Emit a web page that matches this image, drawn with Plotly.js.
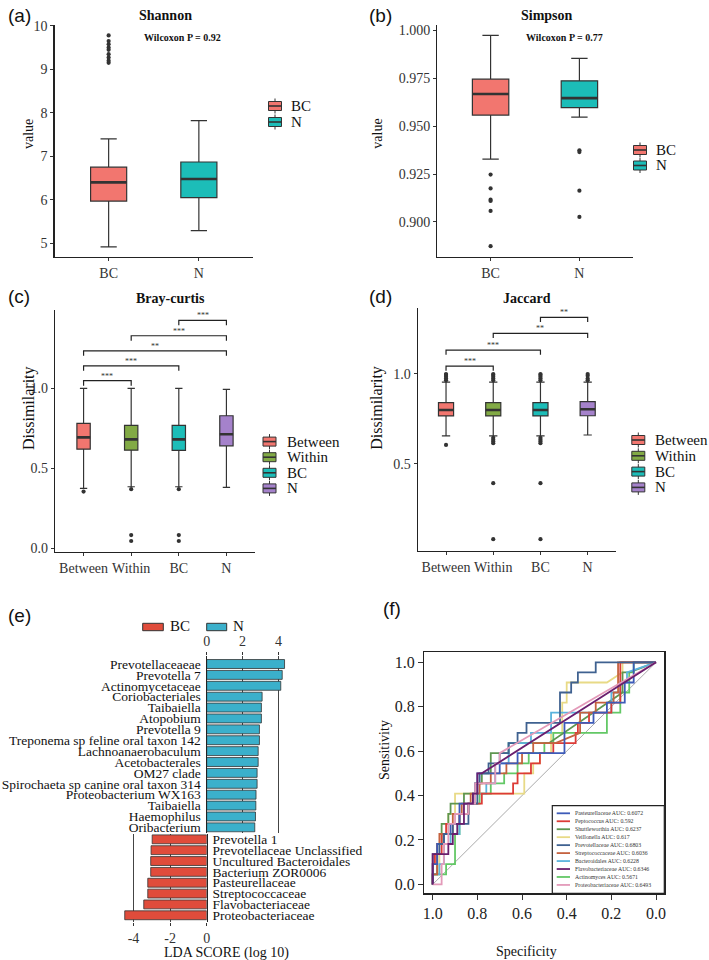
<!DOCTYPE html>
<html><head><meta charset="utf-8">
<script src="https://cdn.plot.ly/plotly-3.0.1.min.js"></script>
<style>html,body{margin:0;padding:0;background:#fff}#chart{width:709px;height:960px}</style>
</head><body><div id="chart"></div>
<script>
// ---------------- DATA ----------------
// (a) Shannon
const alphaGroups = ['BC', 'N'];
const shannonQ1 = [5.97, 6.05];
const shannonMed = [6.40, 6.48];
const shannonQ3 = [6.75, 6.87];
const shannonLo = [4.92, 5.29];
const shannonHi = [7.40, 7.82];
const shannonOut = [[9.15, 9.2, 9.27, 9.35, 9.45, 9.5, 9.58, 9.65, 9.78], []];
// (b) Simpson
const simpsonQ1 = [0.9558, 0.9597];
const simpsonMed = [0.9668, 0.9647];
const simpsonQ3 = [0.9746, 0.9737];
const simpsonLo = [0.9328, 0.9548];
const simpsonHi = [0.9975, 0.9855];
const simpsonOut = [[0.9247, 0.9175, 0.9116, 0.9109, 0.9057, 0.8873], [0.9374, 0.9365, 0.9163, 0.9026]];
// (c) Bray-curtis
const distGroups = ['Between', 'Within', 'BC', 'N'];
const brayQ1 = [0.620, 0.614, 0.612, 0.641];
const brayMed = [0.694, 0.681, 0.681, 0.713];
const brayQ3 = [0.781, 0.769, 0.769, 0.829];
const brayLo = [0.375, 0.385, 0.385, 0.381];
const brayHi = [1.0, 1.0, 1.0, 0.994];
const brayOut = [[0.355], [0.37, 0.083, 0.046], [0.37, 0.083, 0.046], []];
const brayPairA = [0, 0, 0, 1, 2];
const brayPairB = [1, 2, 3, 3, 3];
const brayBracketY = [1.048, 1.141, 1.235, 1.329, 1.425];
const brayStars = ['***', '***', '**', '***', '***'];
// (d) Jaccard
const jacQ1 = [0.767, 0.767, 0.767, 0.768];
const jacMed = [0.800, 0.800, 0.800, 0.804];
const jacQ3 = [0.841, 0.841, 0.841, 0.846];
const jacLo = [0.656, 0.656, 0.656, 0.661];
const jacHi = [0.955, 0.955, 0.955, 0.955];
const jacOut = [
  [0.965, 0.975, 0.985, 0.995, 1.0, 0.606],
  [0.965, 0.975, 0.985, 0.995, 1.0, 0.645, 0.635, 0.625, 0.615, 0.393, 0.082],
  [0.965, 0.975, 0.985, 0.995, 1.0, 0.645, 0.635, 0.625, 0.615, 0.393, 0.082],
  [0.965, 0.975, 0.99, 1.0]
];
const jacPairA = [0, 0, 1, 2];
const jacPairB = [1, 2, 3, 3];
const jacBracketY = [1.044, 1.133, 1.226, 1.315];
const jacStars = ['***', '***', '**', '**'];
// (e) LEfSe
const ldaTaxaN = ['Prevotellaceaeae', 'Prevotella 7', 'Actinomycetaceae', 'Coriobacteriales', 'Taibaiella', 'Atopobium',
  'Prevotella 9', 'Treponema sp feline oral taxon 142', 'Lachnoanaerobaculum', 'Acetobacterales', 'OM27 clade',
  'Spirochaeta sp canine oral taxon 314', 'Proteobacterium WX163', 'Taibaiella', 'Haemophilus', 'Oribacterium'];
const ldaScoreN = [4.34, 4.21, 4.13, 3.09, 3.05, 3.05, 2.94, 2.94, 2.87, 2.87, 2.81, 2.81, 2.75, 2.74, 2.72, 2.68];
const ldaTaxaBC = ['Prevotella 1', 'Prevotellaceae Unclassified', 'Uncultured Bacteroidales', 'Bacterium ZOR0006',
  'Pasteurellaceae', 'Streptococcaceae', 'Flavobacteriaceae', 'Proteobacteriaceae'];
const ldaScoreBC = [-2.98, -3.04, -3.06, -3.06, -3.22, -3.22, -3.44, -4.48];
const ldaTicksTop = [0, 2, 4];
const ldaTicksBottom = [-4, -2, 0];
// (f) ROC
const rocNames = ['Pasteurellaceae', 'Peptococcus', 'Shuttleworthia', 'Veillonella', 'Prevotellaceae',
  'Streptococcaceae', 'Bacteroidales', 'Flavobacteriaceae', 'Actinomyces', 'Proteobacteriaceae'];
const rocAUC = ['0.6072', '0.592', '0.6237', '0.617', '0.6803', '0.6036', '0.6228', '0.6346', '0.5671', '0.6493'];
const specPasteurellaceae = [1,1,0.98,0.98,0.95,0.95,0.92,0.92,0.88,0.88,0.82,0.82,0.81,0.81,0.80,0.80,0.70,0.70,0.62,0.62,0.41,0.41,0.28,0.28,0.22,0.22,0.14,0.14,0.10,0.10,0];
const sensPasteurellaceae = [0,0.091,0.091,0.182,0.182,0.227,0.227,0.273,0.273,0.364,0.364,0.409,0.409,0.455,0.455,0.5,0.5,0.545,0.545,0.591,0.591,0.727,0.727,0.773,0.773,0.818,0.818,0.909,0.909,1,1];
const specPeptococcus = [1,1,0.99,0.99,0.96,0.96,0.94,0.94,0.88,0.88,0.84,0.84,0.78,0.78,0.64,0.64,0.62,0.62,0.56,0.56,0.52,0.52,0.46,0.46,0.36,0.36,0.35,0.35,0.30,0.30,0.20,0.20,0.16,0.16,0];
const sensPeptococcus = [0,0.091,0.091,0.136,0.136,0.227,0.227,0.273,0.273,0.318,0.318,0.364,0.364,0.409,0.409,0.455,0.455,0.5,0.5,0.545,0.545,0.591,0.591,0.636,0.636,0.682,0.682,0.727,0.727,0.773,0.773,0.818,0.818,1,1];
const specShuttleworthia = [1,1,0.98,0.98,0.96,0.96,0.93,0.93,0.92,0.92,0.86,0.86,0.81,0.81,0.78,0.78,0.74,0.74,0.66,0.66,0.48,0.15,0.15,0.12,0];
const sensShuttleworthia = [0,0.045,0.045,0.182,0.182,0.273,0.273,0.318,0.318,0.364,0.364,0.409,0.409,0.455,0.455,0.5,0.5,0.591,0.591,0.636,0.636,0.864,0.955,0.955,1];
const specVeillonella = [1,1,0.97,0.97,0.95,0.95,0.93,0.93,0.90,0.90,0.59,0.59,0.55,0.55,0.52,0.52,0.47,0.47,0.42,0.42,0.40,0.40,0.22,0.15,0.15,0];
const sensVeillonella = [0,0.045,0.045,0.136,0.136,0.227,0.227,0.318,0.318,0.409,0.409,0.5,0.5,0.545,0.545,0.591,0.591,0.682,0.682,0.818,0.818,0.909,0.909,0.955,1,1];
const specPrevotellaceae = [1,1,0.97,0.97,0.95,0.95,0.91,0.91,0.84,0.84,0.80,0.80,0.79,0.79,0.75,0.75,0.70,0.70,0.66,0.66,0.62,0.62,0.58,0.58,0.43,0.43,0.38,0.38,0.35,0.35,0.27,0.27,0];
const sensPrevotellaceae = [0,0.136,0.136,0.182,0.182,0.227,0.227,0.273,0.273,0.364,0.364,0.455,0.455,0.5,0.5,0.545,0.545,0.591,0.591,0.636,0.636,0.682,0.682,0.727,0.727,0.864,0.864,0.909,0.909,0.955,0.955,1,1];
const specStreptococcaceae = [1,1,0.98,0.98,0.97,0.97,0.91,0.91,0.87,0.87,0.83,0.83,0.79,0.79,0.74,0.74,0.67,0.67,0.60,0.60,0.55,0.55,0.45,0.34,0.34,0.27,0.27,0.19,0.19,0.17,0.17,0];
const sensStreptococcaceae = [0,0.045,0.045,0.182,0.182,0.227,0.227,0.318,0.318,0.364,0.364,0.409,0.409,0.455,0.455,0.5,0.5,0.545,0.545,0.591,0.591,0.636,0.636,0.682,0.773,0.773,0.818,0.818,0.864,0.864,1,1];
const specBacteroidales = [1,1,0.97,0.97,0.95,0.95,0.92,0.92,0.88,0.88,0.84,0.84,0.81,0.81,0.76,0.76,0.72,0.72,0.66,0.66,0.56,0.56,0.47,0.47,0.20,0.20,0.16,0.16,0.13,0.13,0];
const sensBacteroidales = [0,0.045,0.045,0.091,0.091,0.182,0.182,0.227,0.227,0.318,0.318,0.364,0.364,0.409,0.409,0.455,0.455,0.545,0.545,0.636,0.636,0.682,0.682,0.773,0.773,0.864,0.864,0.909,0.909,0.955,1];
const specFlavobacteriaceae = [1,1,0.93,0.93,0.91,0.91,0.89,0.89,0.86,0.86,0.82,0.82,0.80,0.80,0.78,0];
const sensFlavobacteriaceae = [0,0.136,0.136,0.182,0.182,0.227,0.227,0.273,0.273,0.364,0.364,0.409,0.409,0.5,0.5,1];
const specActinomyces = [1,1,0.94,0.94,0.90,0.90,0.88,0.88,0.84,0.84,0.79,0.79,0.74,0.74,0.68,0.68,0.62,0.62,0.57,0.57,0.50,0.50,0.46,0.46,0.22,0.22,0.16,0.16,0.12,0.12,0.10,0.10,0];
const sensActinomyces = [0,0.045,0.045,0.091,0.091,0.227,0.227,0.318,0.318,0.364,0.364,0.409,0.409,0.455,0.455,0.5,0.5,0.545,0.545,0.591,0.591,0.636,0.636,0.682,0.682,0.773,0.773,0.864,0.864,0.955,0.955,1,1];
const specProteobacteriaceae = [1,0.96,0.96,0.95,0.95,0.93,0.93,0.90,0.90,0.84,0.84,0.81,0.81,0.72,0.72,0.70,0.70,0];
const sensProteobacteriaceae = [0,0,0.091,0.091,0.182,0.182,0.273,0.273,0.318,0.318,0.364,0.364,0.455,0.455,0.545,0.545,0.591,1];

// ---------------- STYLE / LAYOUT HELPERS ----------------
const W = 709, H = 960;
const px = v => v / W, py = v => 1 - v / H;
const SERIF = '"Liberation Serif","Times New Roman",serif';
const SANS = '"Liberation Sans",Arial,sans-serif';
const INK = '#333333', AXC = '#222222';
const pairColors = ['#F2766F', '#1CBDB8'];
const fourColors = ['#F2766F', '#82AA45', '#1CBDB8', '#A582CB'];
const ldaRed = '#E04C3B', ldaBlue = '#3BB0CB';
const rocColors = ['#3D5BB8', '#DD3B36', '#5E9650', '#E8DA86', '#3F6190', '#C5623F', '#5AB3DD', '#6A1F6E', '#63C866', '#E39AB9'];

const traces = [], shapes = [], annotations = [];

function boxPanel(id, groups, q1, med, q3, lo, hi, outs, colors, bw, ww) {
  const xa = 'x' + id, ya = 'y' + id;
  groups.forEach((g, i) => {
    traces.push({type: 'box', x: [i], q1: [q1[i]], median: [med[i]], q3: [q3[i]],
      lowerfence: [lo[i]], upperfence: [hi[i]], width: bw, whiskerwidth: ww, boxpoints: false,
      fillcolor: colors[i], line: {color: INK, width: 1.2}, xaxis: xa, yaxis: ya,
      showlegend: false, hoverinfo: 'skip'});
    traces.push({type: 'scatter', mode: 'lines', x: [i - bw / 2, i + bw / 2], y: [med[i], med[i]],
      line: {color: INK, width: 2.6}, xaxis: xa, yaxis: ya, showlegend: false, hoverinfo: 'skip'});
    if (outs[i].length) traces.push({type: 'scatter', mode: 'markers', x: outs[i].map(() => i), y: outs[i],
      marker: {color: INK, size: 4.2}, xaxis: xa, yaxis: ya, showlegend: false, hoverinfo: 'skip', cliponaxis: false});
  });
}
function brackets(id, pa, pb, ys, labels, drop) {
  pa.forEach((a, k) => {
    const b = pb[k], y = ys[k];
    traces.push({type: 'scatter', mode: 'lines', x: [a, a, b, b], y: [y - drop, y, y, y - drop],
      xaxis: 'x' + id, yaxis: 'y' + id, line: {color: AXC, width: 1.2}, showlegend: false, hoverinfo: 'skip'});
    annotations.push({xref: 'x' + id, yref: 'y' + id, x: (a + b) / 2, y: y, text: labels[k], showarrow: false,
      yanchor: 'bottom', yshift: -2, font: {family: SERIF, size: 8, color: INK}});
  });
}
function boxKey(cx, cy, color, label, tx) {
  const w = 13, h = 9, s = 3;
  shapes.push({type: 'line', xref: 'paper', yref: 'paper', x0: px(cx), x1: px(cx), y0: py(cy - h / 2 - s), y1: py(cy + h / 2 + s), line: {color: INK, width: 1}});
  shapes.push({type: 'rect', xref: 'paper', yref: 'paper', x0: px(cx - w / 2), x1: px(cx + w / 2), y0: py(cy + h / 2), y1: py(cy - h / 2), fillcolor: color, line: {color: INK, width: 1}});
  shapes.push({type: 'line', xref: 'paper', yref: 'paper', x0: px(cx - w / 2), x1: px(cx + w / 2), y0: py(cy), y1: py(cy), line: {color: INK, width: 1.6}});
  annotations.push({xref: 'paper', yref: 'paper', x: px(tx), y: py(cy), xanchor: 'left', yanchor: 'middle', text: label, showarrow: false, font: {family: SERIF, size: 15, color: '#111'}});
}
function txt(x, y, text, size, opts) {
  annotations.push(Object.assign({xref: 'paper', yref: 'paper', x: px(x), y: py(y), text: text, showarrow: false,
    xanchor: 'center', yanchor: 'middle', font: {family: SERIF, size: size, color: '#111'}}, opts || {}));
}
function ax(extra) {
  return Object.assign({showgrid: false, zeroline: false, showline: true, linecolor: AXC, linewidth: 1.2,
    ticks: 'outside', ticklen: 3, tickcolor: INK, tickfont: {family: SERIF, size: 14, color: INK},
    automargin: false, fixedrange: true}, extra);
}

// ---------------- PANELS (a)-(d) ----------------
boxPanel('', alphaGroups, shannonQ1, shannonMed, shannonQ3, shannonLo, shannonHi, shannonOut, pairColors, 0.4, 0.45);
boxPanel('2', alphaGroups, simpsonQ1, simpsonMed, simpsonQ3, simpsonLo, simpsonHi, simpsonOut, pairColors, 0.41, 0.45);
boxPanel('3', distGroups, brayQ1, brayMed, brayQ3, brayLo, brayHi, brayOut, fourColors, 0.28, 0.55);
boxPanel('4', distGroups, jacQ1, jacMed, jacQ3, jacLo, jacHi, jacOut, fourColors, 0.32, 0.55);
brackets('3', brayPairA, brayPairB, brayBracketY, brayStars, 0.031);
brackets('4', jacPairA, jacPairB, jacBracketY, jacStars, 0.026);

// ---------------- PANEL (e) ----------------
traces.push({type: 'bar', orientation: 'h', x: ldaScoreN, y: ldaTaxaN.map((t, i) => i), width: 0.82,
  marker: {color: ldaBlue, line: {color: INK, width: 0.8}}, xaxis: 'x5', yaxis: 'y5', showlegend: false, hoverinfo: 'skip'});
traces.push({type: 'bar', orientation: 'h', x: ldaScoreBC, y: ldaTaxaBC.map((t, i) => i), width: 0.82,
  marker: {color: ldaRed, line: {color: INK, width: 0.8}}, xaxis: 'x6', yaxis: 'y6', showlegend: false, hoverinfo: 'skip'});

// ---------------- PANEL (f) ----------------
const rocSpec = [specPasteurellaceae, specPeptococcus, specShuttleworthia, specVeillonella, specPrevotellaceae,
  specStreptococcaceae, specBacteroidales, specFlavobacteriaceae, specActinomyces, specProteobacteriaceae];
const rocSens = [sensPasteurellaceae, sensPeptococcus, sensShuttleworthia, sensVeillonella, sensPrevotellaceae,
  sensStreptococcaceae, sensBacteroidales, sensFlavobacteriaceae, sensActinomyces, sensProteobacteriaceae];
const drawOrder = [3, 8, 2, 6, 1, 5, 0, 4, 9, 7];
drawOrder.forEach(i => {
  traces.push({type: 'scatter', mode: 'lines', x: rocSpec[i], y: rocSens[i], name: rocNames[i],
    line: {color: rocColors[i], width: 1.8}, xaxis: 'x7', yaxis: 'y7', showlegend: false, hoverinfo: 'skip'});
});
shapes.push({type: 'line', xref: 'x7', yref: 'y7', x0: 1, y0: 0, x1: 0, y1: 1, layer: 'below', line: {color: '#AAAAAA', width: 1}});
// ROC legend box
shapes.push({type: 'rect', xref: 'paper', yref: 'paper', x0: px(552.3), x1: px(664.3), y0: py(893.3), y1: py(805.7), fillcolor: '#fff', line: {color: AXC, width: 1.2}});
rocNames.forEach((n, i) => {
  const yy = 813.3 + i * 7.96;
  shapes.push({type: 'line', xref: 'paper', yref: 'paper', x0: px(556.7), x1: px(570), y0: py(yy), y1: py(yy), line: {color: rocColors[i], width: 1.8}});
  txt(572.7, yy, n + ' AUC: ' + rocAUC[i], 5.8, {xanchor: 'left', font: {family: SERIF, size: 5.8, color: '#333'}});
});

// ---------------- LEGENDS ----------------
alphaGroups.forEach((g, i) => boxKey(275, 106 + 16 * i, pairColors[i], g, 289));
alphaGroups.forEach((g, i) => boxKey(640, 150 + 15.5 * i, pairColors[i], g, 654));
distGroups.forEach((g, i) => boxKey(269.5, 441.6 + 15.6 * i, fourColors[i], g, 285));
distGroups.forEach((g, i) => boxKey(638.3, 440 + 15.8 * i, fourColors[i], g, 652.7));
// (e) legend
shapes.push({type: 'rect', xref: 'paper', yref: 'paper', x0: px(142.7), x1: px(163.3), y0: py(630.7), y1: py(623.3), fillcolor: ldaRed, line: {color: INK, width: 1}});
shapes.push({type: 'rect', xref: 'paper', yref: 'paper', x0: px(206.7), x1: px(226.7), y0: py(630.7), y1: py(623.3), fillcolor: ldaBlue, line: {color: INK, width: 1}});
txt(168, 626, 'BC', 15, {xanchor: 'left'});
txt(231, 626, 'N', 15, {xanchor: 'left'});

// ---------------- TEXT ----------------
const BOLD = s => '<b>' + s + '</b>';
txt(165, 15, BOLD('Shannon'), 14);
txt(182, 37, BOLD('Wilcoxon P = 0.92'), 10);
txt(546.7, 15, BOLD('Simpson'), 14);
txt(564.3, 37, BOLD('Wilcoxon P = 0.77'), 10);
txt(170, 298, BOLD('Bray-curtis'), 14);
txt(527, 298, BOLD('Jaccard'), 14);
txt(28, 134, 'value', 14, {textangle: -90});
txt(376.7, 134, 'value', 14, {textangle: -90});
txt(29, 408, 'Dissimilarity', 16, {textangle: -90});
txt(376.7, 408, 'Dissimilarity', 16, {textangle: -90});
txt(226, 953, 'LDA SCORE (log 10)', 14);
txt(526.7, 951.7, 'Specificity', 14);
txt(384, 750, 'Sensitivity', 14, {textangle: -90});
const lab = (x, y, t) => txt(x, y, t, 19, {xanchor: 'left', font: {family: SANS, size: 19, color: '#111'}});
lab(6, 15, '(a)'); lab(367, 15, '(b)'); lab(6, 297, '(c)'); lab(367, 297, '(d)'); lab(6, 615, '(e)'); lab(381, 608, '(f)');

// ---------------- LAYOUT ----------------
const layout = {
  width: W, height: H, margin: {l: 0, r: 0, t: 0, b: 0}, paper_bgcolor: '#fff', plot_bgcolor: 'rgba(0,0,0,0)',
  showlegend: false, hovermode: false,
  xaxis: ax({domain: [px(54.5), px(253)], range: [-0.6, 1.6], anchor: 'y', tickvals: [0, 1], ticktext: alphaGroups}),
  yaxis: ax({domain: [py(257), py(25)], range: [4.685, 10.02], anchor: 'x', tickvals: [5, 6, 7, 8, 9, 10]}),
  xaxis2: ax({domain: [px(437.3), px(632.7)], range: [-0.6, 1.6], anchor: 'y2', tickvals: [0, 1], ticktext: alphaGroups}),
  yaxis2: ax({domain: [py(256.7), py(25)], range: [0.8818, 1.0029], anchor: 'x2', tickvals: [0.9, 0.925, 0.95, 0.975, 1.0], tickformat: '.3f'}),
  xaxis3: ax({domain: [px(55), px(255)], range: [-0.6, 3.6], anchor: 'y3', tickvals: [0, 1, 2, 3], ticktext: distGroups}),
  yaxis3: ax({domain: [py(551.7), py(310)], range: [-0.021, 1.49], anchor: 'x3', tickvals: [0, 0.5, 1.0], tickformat: '.1f'}),
  xaxis4: ax({domain: [px(417.7), px(616)], range: [-0.6, 3.6], anchor: 'y4', tickvals: [0, 1, 2, 3], ticktext: distGroups}),
  yaxis4: ax({domain: [py(550.7), py(308.3)], range: [0.018, 1.365], anchor: 'x4', tickvals: [0.5, 1.0], tickformat: '.1f'}),
  xaxis5: ax({domain: [px(206.7), px(289.2)], range: [0, 4.6], anchor: 'y5', side: 'top', showline: false,
    tickvals: ldaTicksTop, ticktext: ldaTicksTop.map(String), showgrid: true, gridcolor: '#444', gridwidth: 1}),
  yaxis5: ax({domain: [py(832.8), py(656)], range: [15.5, -0.735], anchor: 'x5', ticks: '', ticklabelstandoff: 2,
    tickvals: ldaTaxaN.map((t, i) => i), ticktext: ldaTaxaN, tickfont: {family: SERIF, size: 13.5, color: '#111'}}),
  xaxis6: ax({domain: [px(120.7), px(206.7)], range: [-4.7, 0], anchor: 'y6', showline: false,
    tickvals: ldaTicksBottom, ticktext: ldaTicksBottom.map(String), showgrid: true, gridcolor: '#444', gridwidth: 1}),
  yaxis6: ax({domain: [py(922), py(833.9)], range: [7.62, -0.5], anchor: 'x6', side: 'right', ticks: '', ticklabelstandoff: 2,
    tickvals: ldaTaxaBC.map((t, i) => i), ticktext: ldaTaxaBC, tickfont: {family: SERIF, size: 13.5, color: '#111'}}),
  xaxis7: ax({domain: [px(424.3), px(664.3)], range: [1.0376, -0.037], anchor: 'y7', mirror: true, linewidth: 1.3, ticklen: 5,
    tickvals: [1, 0.8, 0.6, 0.4, 0.2, 0], tickformat: '.1f', tickfont: {family: SERIF, size: 16, color: '#222'}}),
  yaxis7: ax({domain: [py(893.3), py(652.3)], range: [-0.04, 1.045], anchor: 'x7', mirror: true, linewidth: 1.3, ticklen: 5,
    tickvals: [0, 0.2, 0.4, 0.6, 0.8, 1.0], tickformat: '.1f', tickfont: {family: SERIF, size: 16, color: '#222'}}),
  shapes: shapes, annotations: annotations
};
Plotly.newPlot('chart', traces, layout, {staticPlot: true, displayModeBar: false});
</script></body></html>
